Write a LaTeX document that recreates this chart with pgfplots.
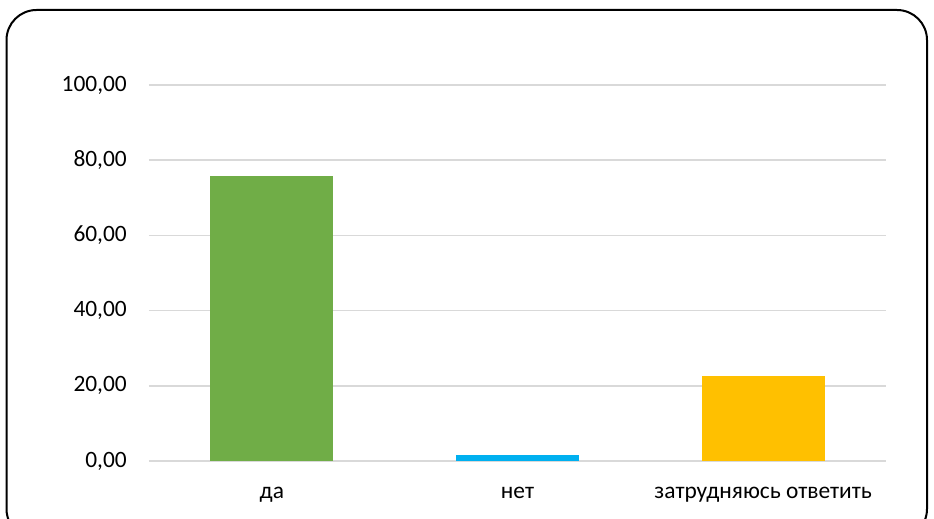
\documentclass[border=0pt]{standalone}
\usepackage{pgfplots}
\pgfplotsset{compat=1.18}
\usepackage{fontspec}
\setmainfont{Carlito}

\definecolor{cgreen}{HTML}{70AD47}
\definecolor{cblue}{HTML}{00B0F0}
\definecolor{cyellow}{HTML}{FFC000}
\definecolor{cgrid}{HTML}{D9D9D9}

\begin{document}
\fontsize{11.7}{13.5}\selectfont
\begin{tikzpicture}
  \useasboundingbox (0,0) rectangle (467pt,259.5pt);
  \draw[black, line width=1pt, rounded corners=15pt]
    (3.25pt,-10pt) rectangle (463.5pt,254.5pt);
  \begin{axis}[
      scale only axis,
      at={(74.5pt,29pt)}, anchor=south west,
      width=368.5pt, height=188pt,
      ybar, bar width=61.5pt,
      xmin=-0.5, xmax=2.5,
      ymin=0, ymax=100,
      ytick={0,20,...,100},
      xtick={0,1,2},
      xticklabels={да, нет, затрудняюсь ответить},
      axis line style={draw=none},
      major tick length=0pt,
      ymajorgrids=true,
      grid style={cgrid, line width=0.75pt},
      yticklabel style={xshift=-7pt},
      xticklabel style={yshift=-9pt},
      /pgf/number format/assume math mode=true,
      /pgf/number format/.cd, fixed, fixed zerofill, precision=2, use comma,
    ]
    \addplot[fill=cgreen, draw=none, bar shift=0pt] coordinates {(0,75.8)};
    \addplot[fill=cblue, draw=none, bar shift=0pt] coordinates {(1,1.6)};
    \addplot[fill=cyellow, draw=none, bar shift=0pt] coordinates {(2,22.6)};
  \end{axis}
\end{tikzpicture}
\end{document}
